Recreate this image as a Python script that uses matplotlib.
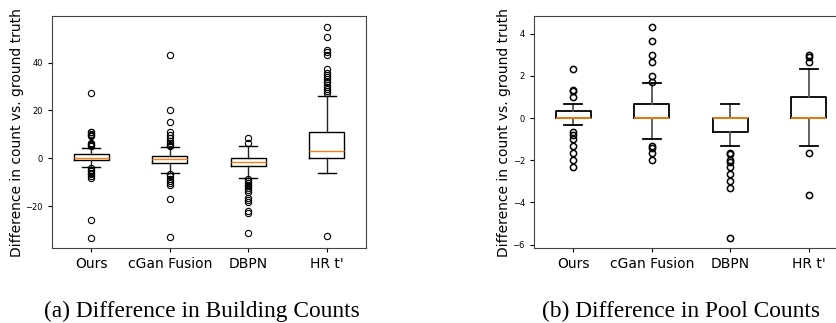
import matplotlib
matplotlib.use("Agg")
import matplotlib.pyplot as plt

labels = ["Ours", "cGan Fusion", "DBPN", "HR t'"]

# (a) building counts: box stats
b_med = [0.0, -0.4, -1.4, 3.2]
b_q1 = [-0.8, -2.0, -3.2, 0.3]
b_q3 = [1.7, 0.8, 0.0, 10.8]
b_lo = [-3.6, -6.0, -8.3, -6.0]
b_hi = [4.4, 4.7, 5.0, 26.0]
b_fliers = [
    [27.3, 11.2, 10.8, 10.3, 9.9, 9.2, 6.5, 6.0, 5.5, 5.0,
     -4.2, -4.8, -5.5, -6.0, -6.8, -7.5, -8.3, -25.8, -33.2],
    [43.3, 20.0, 15.0, 10.8, 9.8, 8.5, 7.2, 6.2, 5.5, 5.0,
     -6.8, -7.5, -8.5, -9.7, -10.5, -11.2, -17.0, -32.9],
    [8.6, 6.3, -8.8, -9.5, -10.2, -11.0, -11.8, -12.5, -13.3, -14.0,
     -16.7, -17.5, -18.3, -22.0, -23.0, -31.5],
    [55.1, 50.7, 45.3, 44.5, 43.3, 37.2, 35.8, 35.0, 34.0, 33.0,
     31.8, 30.8, 29.8, 29.0, 28.2, 27.3, -32.6],
]

# (b) pool counts
p_med = [0.0, 0.0, 0.0, 0.0]
p_q1 = [0.0, 0.0, -0.667, 0.0]
p_q3 = [0.333, 0.667, 0.0, 1.0]
p_lo = [-0.333, -1.0, -1.333, -1.333]
p_hi = [0.667, 1.667, 0.667, 2.333]
p_fliers = [
    [2.333, 1.333, 1.3, 1.0, -0.667, -0.8, -1.0, -1.333, -1.667, -2.0, -2.333],
    [4.333, 3.667, 3.0, 2.667, 2.0, 1.7, -1.333, -1.4, -1.667, -2.0],
    [-1.667, -1.72, -2.0, -2.07, -2.333, -2.667, -3.0, -3.333, -5.667],
    [3.0, 2.9, 2.667, -1.667, -3.667],
]


def make_stats(med, q1, q3, lo, hi, fliers):
    stats = []
    for i in range(len(med)):
        stats.append(dict(med=med[i], q1=q1[i], q3=q3[i],
                          whislo=lo[i], whishi=hi[i], fliers=fliers[i]))
    return stats


def draw(ax, stats, lw, wcol, mew, ticks, labelx):
    ax.bxp(stats,
           boxprops=dict(color="black", linewidth=lw),
           whiskerprops=dict(color=wcol, linewidth=lw),
           capprops=dict(color="black", linewidth=lw),
           medianprops=dict(color="#ff7f0e", linewidth=lw),
           flierprops=dict(marker="o", markerfacecolor="none",
                           markeredgecolor="black", markersize=4.5,
                           markeredgewidth=mew))
    ax.set_xticks([1, 2, 3, 4])
    ax.set_xticklabels(labels, fontsize=10)
    ax.set_yticks(ticks)
    ax.tick_params(axis="y", labelsize=6, length=3)
    ax.tick_params(axis="x", length=3)
    ax.set_ylabel("Difference in count vs. ground truth", fontsize=10)
    ax.yaxis.set_label_coords(labelx, 0.5)
    for s in ax.spines.values():
        s.set_color("#444444")


fig = plt.figure(figsize=(8.36, 3.23), dpi=100)
ax1 = fig.add_axes([52 / 836, 0.232, 314 / 836, 0.718])
ax2 = fig.add_axes([534 / 836, 0.232, 314 / 836, 0.718])

draw(ax1, make_stats(b_med, b_q1, b_q3, b_lo, b_hi, b_fliers), 1.0, "#222222",
     0.8, [-20, 0, 20, 40], -0.088)
draw(ax2, make_stats(p_med, p_q1, p_q3, p_lo, p_hi, p_fliers), 1.3, "#555555",
     1.1, [-6, -4, -2, 0, 2, 4], -0.072)
ax1.margins(y=0.05)
ax2.margins(y=0.05)

fig.text(202 / 836, 6 / 323, "(a) Difference in Building Counts",
         family="Liberation Serif", fontsize=16.8, ha="center", va="baseline")
fig.text(681 / 836, 6 / 323, "(b) Difference in Pool Counts",
         family="Liberation Serif", fontsize=16.8, ha="center", va="baseline")

fig.savefig("out.png", dpi=100)
